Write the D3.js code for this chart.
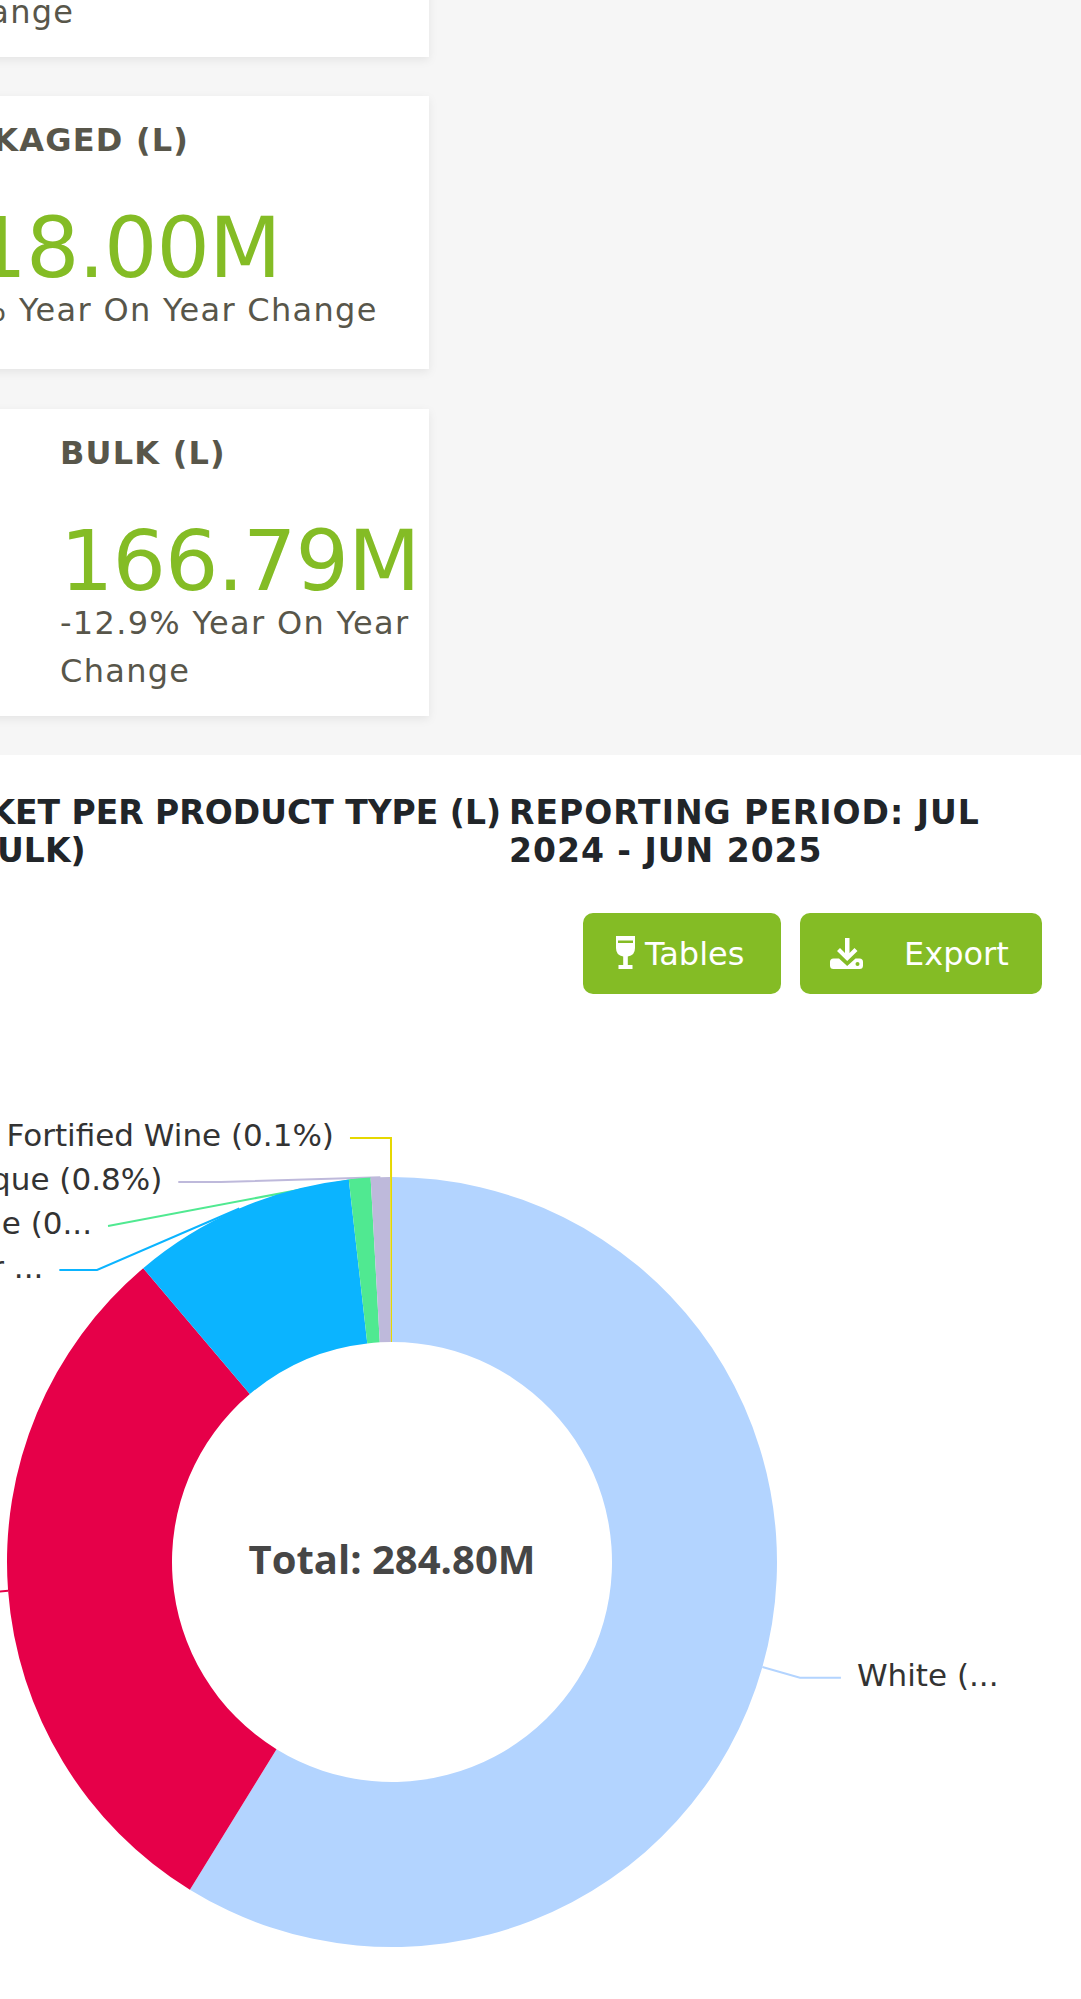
<!DOCTYPE html>
<html>
<head>
<meta charset="utf-8">
<script src="https://cdn.jsdelivr.net/npm/d3@7"></script>
<style>
    html, body { margin: 0; padding: 0; background: #f6f6f6; overflow: hidden; }
    svg { display: block; }
</style>
</head>
<body>
<div id="chart"></div>
<script>
// Summary cards
const cardTitles = ["TOTAL (L)", "PACKAGED (L)", "BULK (L)"];
const cardValues = ["284.80M", "118.00M", "166.79M"];
const cardChanges = ["-10.2%", "5.6%", "-12.9%"];

// Donut: volume per product type, million litres
const productTypes = ["White", "Red", "Blanc de Noir & Rosé", "Sparkling Wine", "Cap Classique", "Fortified Wine"];
const volumes = [167.45, 85.50, 26.75, 2.58, 2.30, 0.22];
const sliceColors = ["#b3d4ff", "#e60049", "#0bb4ff", "#50e991", "#beb9db", "#e6d800"];

const chartTitle = ["SHARE OF MARKET PER PRODUCT TYPE (L)", "(PACKAGED + BULK)"];
const periodTitle = "REPORTING PERIOD: JUL 2024 - JUN 2025";
const buttonLabels = ["Tables", "Export"];

const W = 1081, H = 1999;
const green = "#84bc25";
const cardInk = "#58564a";
const sans = "'DejaVu Sans', Verdana, sans-serif";

const svg = d3.select("#chart").append("svg")
    .attr("width", W)
    .attr("height", H);

svg.append("rect").attr("width", W).attr("height", H).attr("fill", "#f6f6f6");

const filter = svg.append("defs").append("filter")
    .attr("id", "shadow")
    .attr("x", "-5%").attr("y", "-10%")
    .attr("width", "110%").attr("height", "125%");
filter.append("feDropShadow")
    .attr("dx", 0).attr("dy", 3)
    .attr("stdDeviation", 4)
    .attr("flood-color", "#000")
    .attr("flood-opacity", 0.07);

// helper to measure a string with given text styles
const measurer = svg.append("text").attr("x", -9999).attr("y", -9999);
function textWidth(str, style) {
    measurer.attr("style", null);
    Object.entries(style).forEach(([k, v]) => measurer.style(k, v));
    measurer.text(str);
    return measurer.node().getComputedTextLength();
}
function applyStyle(sel, style) {
    Object.entries(style).forEach(([k, v]) => sel.style(k, v));
    return sel;
}
function wrapWords(str, style, maxWidth) {
    const words = str.split(" ");
    const lines = [];
    let line = words[0];
    for (let i = 1; i < words.length; i++) {
        const test = line + " " + words[i];
        if (textWidth(test, style) > maxWidth) {
            lines.push(line);
            line = words[i];
        } else {
            line = test;
        }
    }
    lines.push(line);
    return lines;
}

// ---- cards ----
const cardRight = 429, cardPad = 0;
const cardTop = [-250, 96, 409];
const cardHeight = [307, 273, 307];
const cardTextX = [-56, -79, 60];

const titleStyle = {"font-family": sans, "font-size": "32px", "font-weight": "bold", "letter-spacing": "1.2px", "fill": cardInk};
const valueStyle = {"font-family": sans, "font-size": "84px", "letter-spacing": "-1px", "fill": green};
const changeStyle = {"font-family": sans, "font-size": "32px", "letter-spacing": "1.3px", "fill": cardInk};

cardTitles.forEach((title, i) => {
    const g = svg.append("g").attr("transform", `translate(0,${cardTop[i]})`);
    g.append("rect")
        .attr("x", -700)
        .attr("width", 700 + cardRight)
        .attr("height", cardHeight[i])
        .attr("fill", "#fff")
        .attr("filter", "url(#shadow)");

    const x = cardTextX[i];
    applyStyle(g.append("text").attr("x", x).attr("y", 55).text(title), titleStyle);
    applyStyle(g.append("text").attr("x", x).attr("y", 181).text(cardValues[i]), valueStyle);

    const lines = wrapWords(`${cardChanges[i]} Year On Year Change`, changeStyle, cardRight - cardPad - x);
    lines.forEach((l, j) => {
        applyStyle(g.append("text").attr("x", x).attr("y", 225 + j * 48).text(l), changeStyle);
    });
});

// ---- chart panel ----
const panelTop = 755;
svg.append("rect").attr("y", panelTop).attr("width", W).attr("height", H - panelTop).attr("fill", "#fff");

const headStyle = {"font-family": sans, "font-size": "33px", "font-weight": "bold", "letter-spacing": "1px", "fill": "#212529"};
const headStyleLeft = Object.assign({}, headStyle, {"letter-spacing": "0px"});

// left heading (its start lies off the left edge)
const headRight = 501;
const headX = headRight - textWidth(chartTitle[0], headStyleLeft);
chartTitle.forEach((l, j) => {
    applyStyle(svg.append("text").attr("x", headX).attr("y", 824 + j * 38).text(l), headStyleLeft);
});

// right heading
const periodX = 509;
wrapWords(periodTitle, headStyle, 530).forEach((l, j) => {
    applyStyle(svg.append("text").attr("x", periodX).attr("y", 824 + j * 38).text(l), headStyle);
});

// ---- buttons ----
const buttonBoxes = [{x: 583, w: 198, textX: 645}, {x: 800, w: 242, textX: 904}];
const btnY = 913, btnH = 81;
buttonLabels.forEach((label, i) => {
    const b = buttonBoxes[i];
    svg.append("rect")
        .attr("x", b.x).attr("y", btnY)
        .attr("width", b.w).attr("height", btnH)
        .attr("rx", 10)
        .attr("fill", green);
    svg.append("text")
        .attr("x", b.textX).attr("y", 965)
        .style("font-family", sans)
        .style("font-size", "32px")
        .style("fill", "#fff")
        .text(label);
});

// wine glass icon
svg.append("path")
    .attr("d", "M616,936 H635 V948 Q635,955.5 627.8,956.5 V965 H632.5 V969 H618.5 V965 H623.2 V956.5 Q616,955.5 616,948 Z")
    .attr("fill", "#fff");
svg.append("rect").attr("x", 618).attr("y", 940.5).attr("width", 15).attr("height", 2.5).attr("fill", green);

// download icon
svg.append("path")
    .attr("d", "M845,938 H849.5 V953 L854.5,948 L857.5,951 L847.2,961 L837,951 L840,948 L845,953 Z")
    .attr("fill", "#fff");
svg.append("path")
    .attr("d", "M830,962 Q830,958.5 833.5,958.5 H839 L847.2,966 L855.5,958.5 H859.5 Q863,958.5 863,962 V965.5 Q863,969 859.5,969 H833.5 Q830,969 830,965.5 Z")
    .attr("fill", "#fff");
svg.append("circle").attr("cx", 857.5).attr("cy", 964).attr("r", 2).attr("fill", green);

// ---- donut ----
const cx = 392, cy = 1562;
const outerR = 385, innerR = 220;
const lineLen1 = 39, lineLen2 = 41, labelDist = 16;
const labelStep = 44;
const labelHalfSpan = 610;
const minTurnAngle = Math.PI / 2, maxSurfaceAngle = Math.PI / 2;

const total = d3.sum(volumes);
const pct = d3.format(".1%");

const pie = d3.pie().sort(null).value(d => d);
const arcs = pie(volumes);
const arc = d3.arc().innerRadius(innerR).outerRadius(outerR);

// outer label placement
const rA = outerR + lineLen1;
const items = arcs.map((a, i) => {
    const mid = (a.startAngle + a.endAngle) / 2;
    const sx = Math.sin(mid), sy = -Math.cos(mid);
    const dir = sx < 0 ? -1 : 1;
    const x2 = cx + rA * sx;
    return {
        i, dir,
        normal: [sx, sy],
        p0: [cx + outerR * sx, cy + outerR * sy],
        x2,
        labelX: x2 + dir * (lineLen2 + labelDist),
        labelY: cy + rA * sy
    };
});

[-1, 1].forEach(dir => {
    const list = items.filter(d => d.dir === dir).sort((a, b) => a.labelY - b.labelY);
    if (list.length < 2) return;
    let shifted = false;
    for (let k = 1; k < list.length; k++) {
        const minY = list[k - 1].labelY + labelStep;
        if (list[k].labelY < minY) {
            list[k].labelY = minY;
            shifted = true;
        }
    }
    if (!shifted) return;
    [list.filter(d => d.labelY <= cy), list.filter(d => d.labelY > cy)].forEach(semi => {
        if (!semi.length) return;
        let rB = rA, maxY = -1;
        semi.forEach(d => {
            const dy = Math.abs(d.labelY - cy);
            if (dy >= maxY) {
                const dx = d.labelX - cx - lineLen2 * dir;
                rB = Math.abs(dx) < rA ? Math.sqrt(dy * dy / (1 - dx * dx / (rA * rA))) : rA;
                maxY = dy;
            }
        });
        semi.forEach(d => {
            const dy = Math.abs(d.labelY - cy);
            const dx = Math.sqrt(Math.max(0, 1 - dy * dy / (rB * rB))) * rA;
            d.labelX = cx + (dx + lineLen2) * dir;
        });
    });
});

function projectToLine(a, b, p) {
    const dx1 = b[0] - a[0], dy1 = b[1] - a[1];
    const len = Math.hypot(dx1, dy1);
    const ux = dx1 / len, uy = dy1 / len;
    const t = (p[0] - a[0]) * ux + (p[1] - a[1]) * uy;
    const q = [a[0] + t * ux, a[1] + t * uy];
    return {q, d: Math.hypot(q[0] - p[0], q[1] - p[1])};
}
function clampOnSegment(q, p1, p2) {
    const t = p2[0] !== p1[0] ? (q[0] - p1[0]) / (p2[0] - p1[0]) : (q[1] - p1[1]) / (p2[1] - p1[1]);
    if (isNaN(t)) return null;
    if (t < 0) return p1.slice();
    if (t > 1) return p2.slice();
    return q;
}
function limitTurn(pts) {
    const [p0, p1, p2] = pts;
    const v1 = [p0[0] - p1[0], p0[1] - p1[1]], v2 = [p2[0] - p1[0], p2[1] - p1[1]];
    const l1 = Math.hypot(...v1), l2 = Math.hypot(...v2);
    if (l1 < 1e-3 || l2 < 1e-3) return;
    const cos = (v1[0] * v2[0] + v1[1] * v2[1]) / (l1 * l2);
    if (Math.cos(minTurnAngle) < cos) {
        const {q, d} = projectToLine(p1, p2, p0);
        const s = d / Math.tan(Math.PI - minTurnAngle);
        const n = [q[0] + v2[0] / l2 * s, q[1] + v2[1] / l2 * s];
        const r = clampOnSegment(n, p1, p2);
        if (r) pts[1] = r;
    }
}
function limitSurface(pts, normal) {
    const [p0, p1, p2] = pts;
    const v1 = [p1[0] - p0[0], p1[1] - p0[1]], v2 = [p2[0] - p1[0], p2[1] - p1[1]];
    const l1 = Math.hypot(...v1), l2 = Math.hypot(...v2);
    if (l1 < 1e-3 || l2 < 1e-3) return;
    const cos = (v1[0] * normal[0] + v1[1] * normal[1]) / l1;
    if (cos < Math.cos(maxSurfaceAngle)) {
        const {q, d} = projectToLine(p1, p2, p0);
        const u2 = [v2[0] / l2, v2[1] / l2];
        const angle2 = Math.acos(u2[0] * normal[0] + u2[1] * normal[1]);
        const newAngle = Math.PI / 2 + angle2 - maxSurfaceAngle;
        let r;
        if (newAngle >= Math.PI / 2) {
            r = p2.slice();
        } else {
            const s = d / Math.tan(Math.PI / 2 - newAngle);
            r = clampOnSegment([q[0] + u2[0] * s, q[1] + u2[1] * s], p1, p2);
        }
        if (r) pts[1] = r;
    }
}

items.forEach(d => {
    const y = d.labelY;
    const pts = [d.p0, [d.x2, y], [d.labelX - d.dir * labelDist, y]];
    limitTurn(pts);
    limitSurface(pts, d.normal);
    d.linePts = pts;
});

// leader lines sit under the slices
svg.append("g")
    .selectAll("polyline")
    .data(items)
    .join("polyline")
    .attr("points", d => d.linePts.map(p => p.join(",")).join(" "))
    .attr("fill", "none")
    .attr("stroke", d => sliceColors[d.i])
    .attr("stroke-width", 2);

svg.append("g")
    .attr("transform", `translate(${cx},${cy})`)
    .selectAll("path")
    .data(arcs)
    .join("path")
    .attr("d", arc)
    .attr("fill", (d, i) => sliceColors[i]);

// labels, truncated to the chart's horizontal bounds
const labelStyle = {"font-family": sans, "font-size": "31px", "fill": "#333"};
function fitLabel(str, avail) {
    if (textWidth(str, labelStyle) <= avail) return str;
    for (let k = str.length - 1; k > 0; k--) {
        const s = str.slice(0, k) + "...";
        if (textWidth(s, labelStyle) <= avail) return s;
    }
    return "...";
}
const boundL = cx - labelHalfSpan, boundR = cx + labelHalfSpan;

svg.append("g")
    .selectAll("text")
    .data(items)
    .join("text")
    .attr("x", d => d.labelX)
    .attr("y", d => d.labelY)
    .attr("dy", "0.26em")
    .attr("text-anchor", d => d.dir < 0 ? "end" : "start")
    .style("font-family", labelStyle["font-family"])
    .style("font-size", labelStyle["font-size"])
    .style("fill", labelStyle.fill)
    .text(d => {
        const full = `${productTypes[d.i]} (${pct(volumes[d.i] / total)})`;
        const avail = d.dir < 0 ? d.labelX - boundL : boundR - d.labelX;
        return fitLabel(full, avail);
    });

// centre total
svg.append("text")
    .attr("x", cx)
    .attr("y", 1574)
    .attr("text-anchor", "middle")
    .style("font-family", "'Open Sans', 'Noto Sans', sans-serif")
    .style("font-size", "40px")
    .style("font-weight", "bold")
    .style("fill", "#464646")
    .text(`Total: ${d3.format(".2f")(total)}M`);

measurer.remove();
</script>
</body>
</html>
